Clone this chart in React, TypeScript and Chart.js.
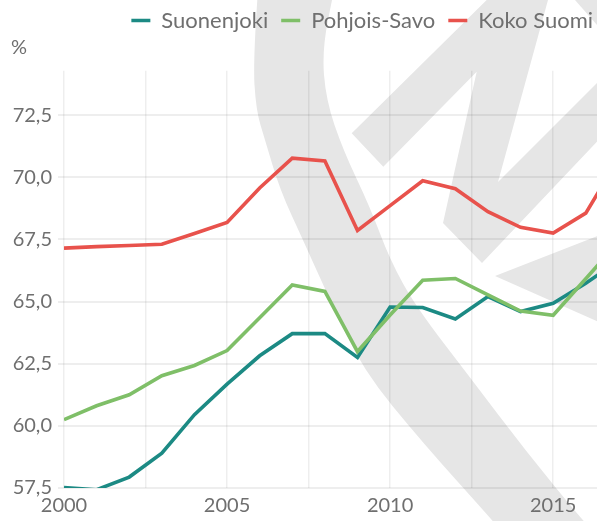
import React, { useEffect, useRef } from 'react';
import { Chart, registerables } from 'chart.js';

Chart.register(...registerables);

// ---- Data ----
const years = [2000, 2001, 2002, 2003, 2004, 2005, 2006, 2007, 2008, 2009, 2010, 2011, 2012, 2013, 2014, 2015, 2016, 2017];
const suonenjoki = [57.52, 57.43, 57.94, 58.9, 60.45, 61.68, 62.82, 63.71, 63.71, 62.75, 64.78, 64.76, 64.3, 65.2, 64.6, 64.93, 65.74, 66.64];
const pohjoisSavo = [60.25, 60.81, 61.25, 62.02, 62.43, 63.03, 64.35, 65.67, 65.41, 62.99, 64.46, 65.86, 65.93, 65.27, 64.62, 64.45, 65.92, 67.4];
const kokoSuomi = [67.15, 67.21, 67.26, 67.31, 67.74, 68.18, 69.57, 70.77, 70.66, 67.86, 68.86, 69.86, 69.54, 68.62, 67.99, 67.76, 68.56, 70.74];
const seriesLabels = ['Suonenjoki', 'Pohjois-Savo', 'Koko Suomi'];
const seriesColors = ['#1c8a84', '#7fbf68', '#e8524c'];
const yUnit = '%';
const xMin = 2000;
const xMax = 2016.62;
const yMin = 57.5;
const yMax = 74.29;
const tickStep = 2.5;
const labelEvery = 5;

const FONT = 'Lato, "DejaVu Sans", sans-serif';
const TEXT = '#6f6f6f';
const GRID = 'rgba(0,0,0,0.065)';
const WM = '#e6e6e6';

type P = [number, number];

function smooth(ctx: CanvasRenderingContext2D, pts: P[], start: boolean) {
  if (start) ctx.moveTo(pts[0][0], pts[0][1]);
  else ctx.lineTo(pts[0][0], pts[0][1]);
  for (let i = 1; i < pts.length - 1; i++) {
    const [x, y] = pts[i];
    const [nx, ny] = pts[i + 1];
    ctx.quadraticCurveTo(x, y, (x + nx) / 2, (y + ny) / 2);
  }
  const last = pts[pts.length - 1];
  ctx.lineTo(last[0], last[1]);
}

function poly(ctx: CanvasRenderingContext2D, pts: P[]) {
  ctx.beginPath();
  ctx.moveTo(pts[0][0], pts[0][1]);
  for (let i = 1; i < pts.length; i++) ctx.lineTo(pts[i][0], pts[i][1]);
  ctx.closePath();
  ctx.fill();
}

// decorative background logo
const watermark = {
  id: 'watermark',
  beforeDraw(chart: any) {
    const ctx: CanvasRenderingContext2D = chart.ctx;
    ctx.save();
    ctx.fillStyle = WM;
    // big curved band
    const left: P[] = [[258, -10], [253, 60], [256, 110], [265, 140], [280, 190], [303, 240], [330, 300], [363, 370], [422, 442], [493, 521], [500, 530]];
    const right: P[] = [[592, 530], [583, 521], [525, 450], [472, 380], [416, 307], [390, 260], [370, 207], [343, 150], [326, 100], [322, 50], [334, -10]];
    ctx.beginPath();
    smooth(ctx, left, true);
    smooth(ctx, right, false);
    ctx.closePath();
    ctx.fill();
    // N-like shape
    poly(ctx, [[351.7, 133.3], [486.7, 0], [548, 0], [498, 182], [597, 83], [610, 70], [610, 128], [482, 263], [443, 223], [476.7, 71.7], [383.3, 166.7]]);
    // top-right corner
    poly(ctx, [[575, 0], [610, 0], [610, 25], [597, 25]]);
    // lower-right wedge
    poly(ctx, [[495, 276], [610, 231], [610, 327]]);
    ctx.restore();
  },
};

const onStep = (v: number, step: number) => Math.abs(v / step - Math.round(v / step)) < 1e-6;

export default function App() {
  const ref = useRef<HTMLCanvasElement | null>(null);

  useEffect(() => {
    if (!ref.current) return;
    const series = [suonenjoki, pohjoisSavo, kokoSuomi];
    const drawOrder = [2, 1, 3];
    const chart = new Chart(ref.current, {
      type: 'line',
      data: {
        datasets: series.map((vals, i) => ({
          label: seriesLabels[i],
          data: years.map((yr, j) => ({ x: yr, y: vals[j] })),
          borderColor: seriesColors[i],
          backgroundColor: seriesColors[i],
          borderWidth: 3.6,
          pointRadius: 0,
          tension: 0,
          fill: false,
          order: drawOrder[i],
        })),
      },
      options: {
        animation: false,
        responsive: true,
        maintainAspectRatio: false,
        events: [],
        layout: { padding: { top: -3.5, left: 11, right: 3, bottom: 0 } },
        plugins: {
          legend: {
            position: 'top',
            align: 'end',
            labels: {
              font: { family: FONT, size: 22 },
              color: TEXT,
              usePointStyle: true,
              pointStyle: 'line',
              pointStyleWidth: 19,
              padding: 13,
              sort: (a: any, b: any) => a.datasetIndex - b.datasetIndex,
            },
          },
          title: {
            display: true,
            text: yUnit,
            align: 'start',
            weight: 500,
            color: TEXT,
            font: { family: FONT, size: 20, weight: 'normal', lineHeight: 1 },
            padding: { top: -4, bottom: 13.2 },
          },
          tooltip: { enabled: false },
        },
        scales: {
          x: {
            type: 'linear',
            min: xMin,
            max: xMax,
            afterBuildTicks: (s: any) => {
              s.ticks = s.ticks.filter((t: any) => onStep(t.value, tickStep));
            },
            afterFit: (s: any) => {
              s.height = 33;
            },
            ticks: {
              stepSize: tickStep,
              includeBounds: false,
              autoSkip: false,
              maxRotation: 0,
              padding: 6,
              color: TEXT,
              font: { family: FONT, size: 20 },
              callback: (v: any) => (onStep(Number(v), labelEvery) ? String(v) : ''),
            },
            grid: { color: GRID, lineWidth: 1.5, drawTicks: false },
            border: { display: false },
          },
          y: {
            min: yMin,
            max: yMax,
            afterBuildTicks: (s: any) => {
              s.ticks = s.ticks.filter((t: any) => onStep(t.value, tickStep));
            },
            afterFit: (s: any) => {
              s.width = 53;
            },
            ticks: {
              stepSize: tickStep,
              includeBounds: false,
              padding: 6,
              color: TEXT,
              font: { family: FONT, size: 20 },
              callback: (v: any) => Number(v).toFixed(1).replace('.', ','),
            },
            grid: { color: GRID, lineWidth: 2, tickLength: 6 },
            border: { display: false },
          },
        },
      },
      plugins: [watermark],
    } as any);
    return () => chart.destroy();
  }, []);

  return (
    <div style={{ position: 'absolute', left: 0, top: 0, width: 597, height: 521, overflow: 'hidden', background: '#fff' }}>
      <div style={{ position: 'relative', width: 609, height: 521 }}>
        <canvas ref={ref} />
      </div>
    </div>
  );
}
